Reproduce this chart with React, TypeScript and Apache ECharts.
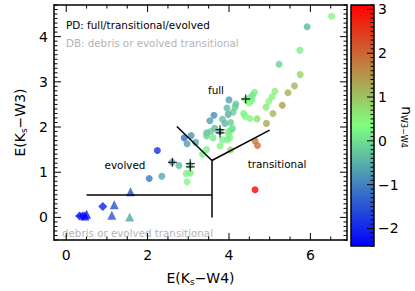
import React, { useEffect, useRef } from "react";
import * as echarts from "echarts";

const FONT = "DejaVu Sans";

// axis ranges and ticks
const X_RANGE = [-0.3, 6.9];
const Y_RANGE = [-0.5, 4.7];
const N_RANGE = [-2.4, 3.1];
const xMajor = [0, 2, 4, 6];
const yMajor = [0, 1, 2, 3, 4];
const nMajor = [-2, -1, 0, 1, 2, 3];
const X_MINOR_STEP = 0.5;
const Y_MINOR_STEP = 0.1;
const N_MINOR_STEP = 0.1;

// colour table of n_{W3-W4}
const palette = ["#0000ff", "#80ff80", "#ff0000"];

// PD sources: [E(Ks-W4), E(Ks-W3), n_W3-W4]
const pdCircles = [
  [6.52, 4.45, 0.3], [5.92, 4.22, -0.4], [5.74, 3.70, 0.2], [5.23, 3.39, -0.1],
  [5.75, 3.16, 0.8], [5.61, 2.91, 1.1], [5.45, 2.76, 1.2], [5.13, 2.79, 0.5],
  [5.06, 2.67, 0.5], [4.98, 2.57, 0.4], [5.31, 2.48, 1.4], [4.91, 2.44, 0.6],
  [5.08, 2.30, 1.1], [4.92, 2.08, 1.3], [4.69, 2.18, 0.7],
  [4.63, 2.77, 0.2], [4.58, 2.70, 0.1], [4.52, 2.65, 0.1], [4.41, 2.61, 0.2],
  [4.56, 2.59, 0.2], [4.50, 2.53, 0.3], [4.0, 2.60, -0.7], [4.17, 2.51, -0.3],
  [4.15, 2.44, -0.2], [3.95, 2.42, -0.4], [4.10, 2.33, -0.2], [3.98, 2.28, -0.5],
  [4.36, 2.30, 0.2], [4.40, 2.23, 0.3], [4.52, 2.19, 0.4], [3.63, 2.26, -0.9],
  [3.53, 2.14, -0.7], [3.84, 2.17, -0.3], [3.90, 2.08, -0.4], [4.04, 2.10, -0.2],
  [3.78, 1.90, -0.3], [3.65, 1.97, -0.4], [3.45, 1.87, -0.3], [3.55, 1.90, -0.2],
  [4.09, 1.97, 0.1], [3.98, 1.90, 0.2], [4.06, 1.94, 0.0], [4.0, 1.83, 0.2],
  [4.02, 1.76, 0.3], [3.84, 1.72, 0.2], [3.96, 1.72, 0.2], [3.61, 1.76, 0.1],
  [3.45, 1.80, -0.1], [3.78, 1.58, 0.3], [4.04, 1.49, 0.8], [3.45, 1.50, 0.2],
  [3.35, 1.40, 0.2], [4.64, 1.69, 1.8], [4.70, 1.59, 1.9],
  [2.90, 1.76, -1.2], [3.07, 1.81, -0.8], [2.97, 1.63, -0.7], [3.18, 1.66, -0.6],
  [2.24, 1.48, -1.9], [2.60, 1.22, -0.6], [2.77, 1.15, -0.4], [3.04, 1.15, 0.0],
  [2.95, 0.97, 0.2], [3.05, 0.98, 0.2], [2.97, 0.79, 0.3], [2.04, 0.86, -1.1],
  [2.35, 0.91, -0.6], [4.64, 0.61, 3.1],
];

// DB sources
const dbTriangles = [
  [1.58, 0.57, -1.5], [1.18, 0.28, -1.5], [1.12, 0.05, -1.5], [1.56, 0.01, -0.6],
  [0.50, 0.07, -2.2], [0.46, 0.03, -2.3],
];
const dbDiamonds = [
  [0.90, 0.24, -2.1], [0.33, 0.03, -2.3], [0.41, 0.03, -2.3],
];

// sources marked with a cross
const crossPoints = [
  [4.41, 2.62], [3.78, 1.94], [3.78, 1.87], [2.61, 1.22], [3.05, 1.19], [3.05, 1.12],
];

// class boundaries
const boundaries = [
  [[0.5, 0.5], [3.58, 0.5]],
  [[3.58, 0.0], [3.58, 1.26]],
  [[2.72, 2.01], [3.58, 1.26]],
  [[3.58, 1.26], [5.0, 1.93]],
];

function minorTicks(lo: number, hi: number, step: number, major: number[]) {
  const out: number[] = [];
  const start = Math.ceil(lo / step - 1e-9);
  const end = Math.floor(hi / step + 1e-9);
  for (let i = start; i <= end; i++) {
    const v = Math.round(i * step * 1000) / 1000;
    if (!major.some((m) => Math.abs(m - v) < 1e-9)) out.push(v);
  }
  return out;
}

const minusFmt = (v: number) => (v < 0 ? "\u2212" + Math.abs(v) : String(v));

const MAJOR_LEN = 7;
const MINOR_LEN = 3.5;

export default function App() {
  const ref = useRef<HTMLDivElement>(null);
  useEffect(() => {
    if (!ref.current) return;
    const chart = echarts.init(ref.current, undefined, { renderer: "svg" });
    const xMinor = minorTicks(X_RANGE[0], X_RANGE[1], X_MINOR_STEP, xMajor);
    const yMinor = minorTicks(Y_RANGE[0], Y_RANGE[1], Y_MINOR_STEP, yMajor);
    const nMinor = minorTicks(N_RANGE[0], N_RANGE[1], N_MINOR_STEP, nMajor);
    const labelStyle = { fontSize: 14, color: "#000", fontFamily: FONT };
    const frame = { show: true, onZero: false, lineStyle: { color: "#000", width: 1.5 } };
    const nameStyle = {
      fontSize: 14, color: "#000", fontFamily: FONT,
      rich: { s: { fontSize: 9, fontFamily: FONT, color: "#000", padding: [7, 0, 0, 0] } },
    };
    const gradient = new echarts.graphic.LinearGradient(0, 1, 0, 0,
      palette.map((c, i) => ({ offset: i / (palette.length - 1), color: c })));

    // inward tick marks as rect symbols placed on the frame through the axes' scales
    const xTick = (v: number, len: number) => [
      { value: [v, Y_RANGE[0]], symbolSize: [1, len], symbolOffset: [0, -len / 2] },
      { value: [v, Y_RANGE[1]], symbolSize: [1, len], symbolOffset: [0, len / 2] },
    ];
    const yTick = (v: number, len: number) => [
      { value: [X_RANGE[0], v], symbolSize: [len, 1], symbolOffset: [len / 2, 0] },
      { value: [X_RANGE[1], v], symbolSize: [len, 1], symbolOffset: [-len / 2, 0] },
    ];
    const plotTicks = [
      ...xMajor.flatMap((v) => xTick(v, MAJOR_LEN)), ...xMinor.flatMap((v) => xTick(v, MINOR_LEN)),
      ...yMajor.flatMap((v) => yTick(v, MAJOR_LEN)), ...yMinor.flatMap((v) => yTick(v, MINOR_LEN)),
    ];
    const barTick = (v: number, len: number) => ({ value: [1, v], symbolSize: [len, 1], symbolOffset: [-len / 2, 0] });
    const barTicks = [...nMajor.map((v) => barTick(v, MAJOR_LEN)), ...nMinor.map((v) => barTick(v, MINOR_LEN))];

    chart.setOption({
      animation: false,
      grid: [
        { left: 54, top: 5, width: 293, height: 241 },
        { left: 351, top: 5, width: 23, height: 241 },
      ],
      xAxis: [
        {
          type: "value", min: X_RANGE[0], max: X_RANGE[1], position: "bottom",
          axisLine: frame, axisTick: { show: false }, splitLine: { show: false },
          axisLabel: { ...labelStyle, customValues: xMajor, margin: 8 },
          name: "E(K{s|s}\u2212W4)", nameLocation: "middle", nameGap: 30, nameTextStyle: nameStyle,
        },
        {
          type: "value", min: X_RANGE[0], max: X_RANGE[1], position: "top",
          axisLine: frame, axisTick: { show: false }, splitLine: { show: false }, axisLabel: { show: false },
        },
        { gridIndex: 1, type: "value", min: 0, max: 1, show: false },
      ],
      yAxis: [
        {
          type: "value", min: Y_RANGE[0], max: Y_RANGE[1], position: "left",
          axisLine: frame, axisTick: { show: false }, splitLine: { show: false },
          axisLabel: { ...labelStyle, customValues: yMajor, margin: 6 },
          name: "E(K{s|s}\u2212W3)", nameLocation: "middle", nameGap: 24, nameTextStyle: nameStyle,
        },
        {
          type: "value", min: Y_RANGE[0], max: Y_RANGE[1], position: "right",
          axisLine: frame, axisTick: { show: false }, splitLine: { show: false }, axisLabel: { show: false },
        },
        {
          gridIndex: 1, type: "value", min: N_RANGE[0], max: N_RANGE[1], position: "right",
          axisLine: { show: false, onZero: false }, axisTick: { show: false }, splitLine: { show: false },
          axisLabel: { ...labelStyle, customValues: nMajor, margin: 4, formatter: minusFmt },
        },
      ],
      visualMap: {
        type: "continuous", show: false, min: N_RANGE[0], max: N_RANGE[1], dimension: 2,
        seriesIndex: [0, 1, 2], inRange: { color: palette },
      },
      series: [
        { type: "scatter", data: pdCircles, symbol: "circle", symbolSize: 7, z: 2, silent: true },
        { type: "scatter", data: dbTriangles, symbol: "triangle", symbolSize: 9, z: 2, silent: true },
        { type: "scatter", data: dbDiamonds, symbol: "diamond", symbolSize: 9, z: 2, silent: true },
        {
          type: "scatter", data: crossPoints, z: 4, silent: true,
          symbol: "path://M0,4.3h10v1.4h-10z M4.3,0h1.4v10h-1.4z", symbolSize: 9,
          itemStyle: { color: "#000" },
        },
        {
          type: "lines", coordinateSystem: "cartesian2d", z: 3, silent: true,
          data: boundaries.map((c) => ({ coords: c })),
          lineStyle: { color: "#000", width: 1.5, opacity: 1 },
        },
        {
          type: "custom", coordinateSystem: "cartesian2d", xAxisIndex: 2, yAxisIndex: 2, z: 1, silent: true,
          data: [[0, N_RANGE[0]]], encode: { x: 0, y: 1 },
          renderItem: (_p: any, api: any) => {
            const p0 = api.coord([0, N_RANGE[1]]);
            const p1 = api.coord([1, N_RANGE[0]]);
            return {
              type: "rect",
              shape: { x: p0[0], y: p0[1], width: p1[0] - p0[0], height: p1[1] - p0[1] },
              style: { fill: gradient, stroke: "#000", lineWidth: 1.5 },
            };
          },
        },
        {
          type: "scatter", data: plotTicks, symbol: "rect", z: 5, silent: true, clip: false,
          itemStyle: { color: "#000", opacity: 1 },
        },
        {
          type: "scatter", xAxisIndex: 2, yAxisIndex: 2, data: barTicks, symbol: "rect", z: 5, silent: true, clip: false,
          itemStyle: { color: "#000", opacity: 1 },
        },
      ],
      graphic: [
        { type: "text", x: 66, y: 25, style: { text: "PD: full/transitional/evolved", font: `10.4px "${FONT}"`, fill: "#000", verticalAlign: "middle" } },
        { type: "text", x: 66, y: 43, style: { text: "DB: debris or evolved transitional", font: `10.3px "${FONT}"`, fill: "#b4b4b4", verticalAlign: "middle" } },
        { type: "text", x: 216, y: 90, style: { text: "full", font: `10.4px "${FONT}"`, fill: "#000", align: "center", verticalAlign: "middle" } },
        { type: "text", x: 125, y: 165, style: { text: "evolved", font: `10.4px "${FONT}"`, fill: "#000", align: "center", verticalAlign: "middle" } },
        { type: "text", x: 277, y: 164, style: { text: "transitional", font: `10.4px "${FONT}"`, fill: "#000", align: "center", verticalAlign: "middle" } },
        { type: "text", x: 62, y: 233, style: { text: "debris or evolved transitional", font: `10.3px "${FONT}"`, fill: "#b4b4b4", verticalAlign: "middle" } },
        {
          type: "text", x: 407, y: 127, rotation: -Math.PI / 2,
          style: {
            text: "n{s|W3\u2212W4}", font: `14px "${FONT}"`, fill: "#000", align: "center", verticalAlign: "middle",
            rich: { s: { fontSize: 8, fontFamily: FONT, fill: "#000", padding: [7, 0, 0, 0] } },
          },
        },
      ],
    });
    return () => chart.dispose();
  }, []);
  return <div ref={ref} style={{ position: "absolute", left: 0, top: 0, width: 415, height: 291 }} />;
}
